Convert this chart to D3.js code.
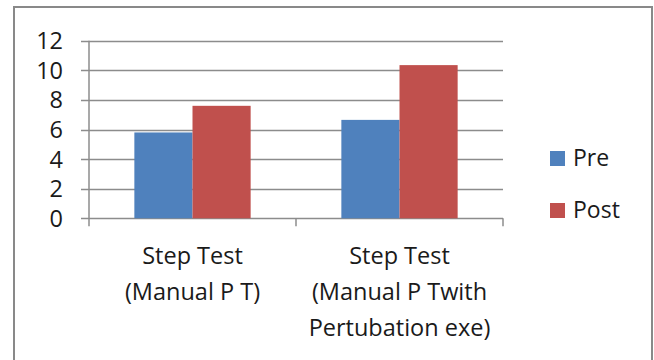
<!DOCTYPE html>
<meta charset="utf-8">
<style>
    body { margin: 0; background: #fff; }
    svg text { font-family: "Open Sans", sans-serif; fill: #1a1a1a; }
</style>
<body>
<svg width="654" height="360"></svg>
<script src="https://d3js.org/d3.v7.min.js"></script>
<script>
    // chart data
    var categories = ["Step Test\n(Manual P T)", "Step Test\n(Manual P Twith\nPertubation exe)"];
    var seriesNames = ["Pre", "Post"];
    var preValues = [5.8, 6.65];
    var postValues = [7.6, 10.35];
    var yTicks = [0, 2, 4, 6, 8, 10, 12];
    var colors = ["#4f81bd", "#c0504d"];

    var svg = d3.select("svg");

    // outer frame
    svg.append("rect")
        .attr("x", 14).attr("y", 7)
        .attr("width", 638).attr("height", 370)
        .attr("fill", "none")
        .attr("stroke", "#898989")
        .attr("stroke-width", 2);

    var plotLeft = 89, plotRight = 503, plotTop = 40.7, plotBottom = 218.3;

    var x = d3.scaleBand().domain(d3.range(categories.length)).range([plotLeft, plotRight]);
    var inner = d3.scaleBand().domain(seriesNames).range([0, x.bandwidth()]).paddingInner(0).paddingOuter(0.78);
    var y = d3.scaleLinear().domain([0, 12]).range([plotBottom, plotTop]);

    var g = svg.append("g");

    // gridlines
    g.selectAll(".grid")
        .data(yTicks)
        .enter().append("line")
        .attr("x1", plotLeft - 8).attr("x2", plotRight)
        .attr("y1", function(d) { return Math.round(y(d)) + 0.5; })
        .attr("y2", function(d) { return Math.round(y(d)) + 0.5; })
        .attr("stroke", "#8c8c8c")
        .attr("stroke-width", 1.5);

    // y axis line
    g.append("line")
        .attr("x1", plotLeft).attr("x2", plotLeft)
        .attr("y1", plotTop).attr("y2", plotBottom + 8)
        .attr("stroke", "#8c8c8c").attr("stroke-width", 1.5);

    // category ticks
    g.selectAll(".ctick")
        .data(d3.range(categories.length))
        .enter().append("line")
        .attr("x1", function(d) { return x(d) + x.bandwidth(); })
        .attr("x2", function(d) { return x(d) + x.bandwidth(); })
        .attr("y1", plotBottom).attr("y2", plotBottom + 8)
        .attr("stroke", "#8c8c8c").attr("stroke-width", 1.5);

    // y labels
    g.selectAll(".ylab")
        .data(yTicks)
        .enter().append("text")
        .attr("x", 63)
        .attr("y", function(d) { return y(d); })
        .attr("dy", "0.36em")
        .attr("text-anchor", "end")
        .style("font-size", "23.5px")
        .text(function(d) { return d; });

    // bars
    var series = [preValues, postValues];
    series.forEach(function(vals, si) {
        g.selectAll(".bar" + si)
            .data(vals)
            .enter().append("rect")
            .attr("x", function(d, i) { return x(i) + inner(seriesNames[si]); })
            .attr("width", inner.bandwidth())
            .attr("y", function(d) { return y(d); })
            .attr("height", function(d) { return y(0) - y(d); })
            .attr("fill", colors[si]);
    });

    // category labels
    categories.forEach(function(c, i) {
        var lines = c.split("\n");
        var t = g.append("text")
            .attr("text-anchor", "middle")
            .style("font-size", "23.5px");
        lines.forEach(function(l, j) {
            t.append("tspan")
                .attr("x", x(i) + x.bandwidth() / 2)
                .attr("y", 264 + j * 36)
                .text(l);
        });
    });

    // legend
    var legend = svg.append("g");
    seriesNames.forEach(function(s, i) {
        legend.append("rect")
            .attr("x", 550).attr("y", 151 + i * 52)
            .attr("width", 15).attr("height", 15)
            .attr("fill", colors[i]);
        legend.append("text")
            .attr("x", 573).attr("y", 166 + i * 52)
            .style("font-size", "23px")
            .text(s);
    });
</script>
</body>
